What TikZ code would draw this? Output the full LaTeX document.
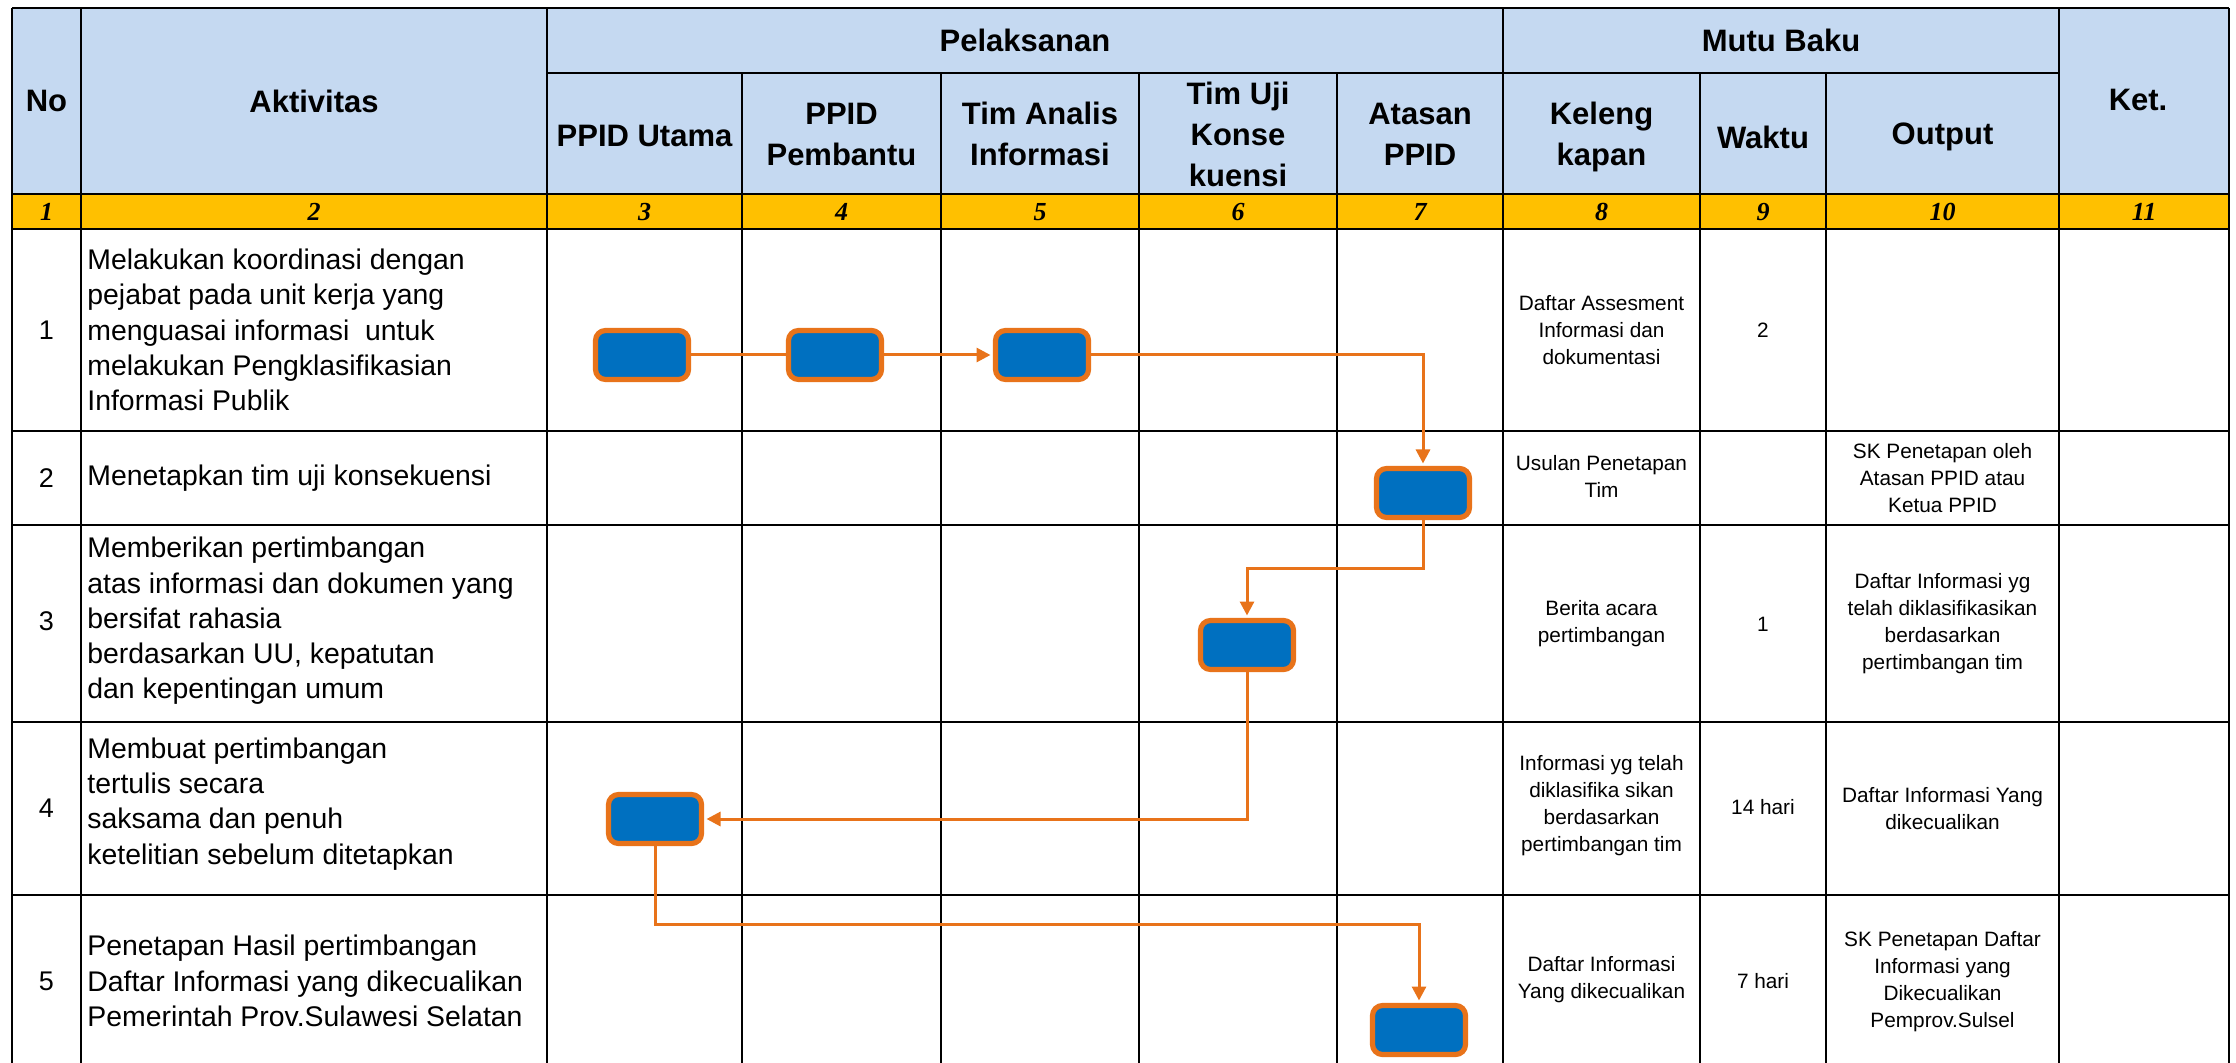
\documentclass[tikz,border=0pt]{standalone}
\usepackage{fontspec}
\setmainfont{Liberation Sans}
\newfontfamily\tnrfam{Liberation Serif}
\usetikzlibrary{arrows.meta}
\definecolor{hdrblue}{HTML}{C5D9F1}
\definecolor{yel}{HTML}{FFC000}
\definecolor{boxblue}{HTML}{0070C0}
\definecolor{boxorange}{HTML}{E8731A}
\newcommand{\myhdr}{\bfseries\fontsize{15.5}{20.5}\selectfont}
\newcommand{\mybody}{\fontsize{14.2}{17.6}\selectfont}
\newcommand{\mysmall}{\fontsize{10.4}{13.5}\selectfont}
\newcommand{\mynum}{\tnrfam\bfseries\itshape\fontsize{13}{15}\selectfont}
\newcommand{\myno}{\fontsize{13.5}{16}\selectfont}
\tikzset{
  grid/.style={line width=1pt, draw=black},
  hdr/.style={font=\myhdr, align=center, inner sep=0},
  body/.style={font=\mybody, align=left, inner sep=0, anchor=west},
  small/.style={font=\mysmall, align=center, inner sep=0},
  colnum/.style={font=\mynum, inner sep=0},
  rowno/.style={font=\myno, inner sep=0},
  act/.style={draw=boxorange, line width=2.6pt, fill=boxblue, rounded corners=5pt,
    minimum width=46.5pt, minimum height=24.5pt, inner sep=0},
  flow/.style={draw=boxorange, line width=1.5pt},
  arr/.style={flow, -{Triangle[length=7pt,width=7pt]}, shorten >=1.2pt},
}
\begin{document}
\begin{tikzpicture}[x=0.5pt,y=-0.5pt]
\useasboundingbox (0,0) rectangle (2236,1063);
% fills
\fill[hdrblue] (12,8) rectangle (2229,194);
\fill[yel] (12,194) rectangle (2229,229);
% horizontal lines
\draw[grid] (12,8) -- (2229,8);
\draw[grid] (547,73) -- (2059,73);
\foreach \yy in {194,229,431,525,722,895,1067} \draw[grid] (12,\yy) -- (2229,\yy);
% vertical lines
\foreach \xx in {12,81,547,1503,2059,2229} \draw[grid] (\xx,8) -- (\xx,1067);
\foreach \xx in {742,941,1139,1337,1700,1826} \draw[grid] (\xx,73) -- (\xx,1067);
% headers
\node[hdr] (hNo) at (46.5,101) {No};
\node[hdr] (hAkt) at (314,101) {Aktivitas};
\node[hdr] (hPel) at (1025,40) {Pelaksanan};
\node[hdr] (hMutu) at (1781,40) {Mutu Baku};
\node[hdr] (hKet) at (2138,100) {Ket.};
\node[hdr] (hPU) at (644.5,136) {PPID Utama};
\node[hdr] (hPP) at (841.5,134) {PPID\\Pembantu};
\node[hdr] (hTA) at (1040,134) {Tim Analis\\Informasi};
\node[hdr] (hTU) at (1238,134) {Tim Uji\\Konse\\kuensi};
\node[hdr] (hAP) at (1420,134) {Atasan\\PPID};
\node[hdr] (hKel) at (1601.5,137) {Keleng\\kapan};
\node[hdr] (hWak) at (1763,137) {Waktu};
\node[hdr] (hOut) at (1942.5,137) {Output};
% column numbers
\node[colnum] (n1) at (46.5,212) {1};
\node[colnum] (n2) at (314,212) {2};
\node[colnum] (n3) at (644.5,212) {3};
\node[colnum] (n4) at (841.5,212) {4};
\node[colnum] (n5) at (1040,212) {5};
\node[colnum] (n6) at (1238,212) {6};
\node[colnum] (n7) at (1420,212) {7};
\node[colnum] (n8) at (1601.5,212) {8};
\node[colnum] (n9) at (1763,212) {9};
\node[colnum] (n10) at (1942.5,212) {10};
\node[colnum] (n11) at (2144,212) {11};
% row numbers
\node[rowno] (r1) at (46.5,330) {1};
\node[rowno] (r2) at (46.5,478) {2};
\node[rowno] (r3) at (46.5,621) {3};
\node[rowno] (r4) at (46.5,808) {4};
\node[rowno] (r5) at (46.5,981) {5};
% activities
\node[body] (a1) at (87,330) {Melakukan koordinasi dengan\\pejabat pada unit kerja yang\\menguasai informasi\ \ untuk\\melakukan Pengklasifikasian\\Informasi Publik};
\node[body] (a2) at (87,478) {Menetapkan tim uji konsekuensi};
\node[body] (a3) at (87,621) {Memberikan pertimbangan\\atas informasi dan dokumen yang\\bersifat rahasia\\berdasarkan UU, kepatutan\\dan kepentingan umum};
\node[body] (a4) at (87,804) {Membuat pertimbangan\\tertulis secara\\saksama dan penuh\\ketelitian sebelum ditetapkan};
\node[body] (a5) at (87,981) {Penetapan Hasil pertimbangan\\Daftar Informasi yang dikecualikan\\Pemerintah Prov.Sulawesi Selatan};
% kelengkapan
\node[small] (k1) at (1601.5,330) {Daftar Assesment\\Informasi dan\\dokumentasi};
\node[small] (k2) at (1601.5,476) {Usulan Penetapan\\Tim};
\node[small] (k3) at (1601.5,624) {Berita acara\\pertimbangan};
\node[small] (k4) at (1601.5,806) {Informasi yg telah\\diklasifika sikan\\berdasarkan\\pertimbangan tim};
\node[small] (k5) at (1601.5,980) {Daftar Informasi\\Yang dikecualikan};
% waktu
\node[small] (w1) at (1763,330) {2};
\node[small] (w3) at (1763,624) {1};
\node[small] (w4) at (1763,807) {14 hari};
\node[small] (w5) at (1763,981) {7 hari};
% output
\node[small] (o2) at (1942.5,478) {SK Penetapan oleh\\Atasan PPID atau\\Ketua PPID};
\node[small] (o3) at (1942.5,624) {Daftar Informasi yg\\telah diklasifikasikan\\berdasarkan\\pertimbangan tim};
\node[small] (o4) at (1942.5,809) {Daftar Informasi Yang\\dikecualikan};
\node[small] (o5) at (1942.5,982) {SK Penetapan Daftar\\Informasi yang\\Dikecualikan\\Pemprov.Sulsel};
% process boxes
\node[act] (b1) at (642,355) {};
\node[act] (b2) at (835,355) {};
\node[act] (b3) at (1042,355) {};
\node[act] (b4) at (1423,493) {};
\node[act] (b5) at (1247,645) {};
\node[act] (b6) at (655,819) {};
\node[act] (b7) at (1419,1030) {};
\coordinate (j1) at (0,568);
\coordinate (j2) at (0,924);
% connectors
\draw[flow] (b1.east) -- (b2.west);
\draw[arr] (b2.east) -- (b3.west);
\draw[arr] (b3.east) -| (b4.north);
\draw[arr] (b4.south) -- (b4.south |- j1) -| (b5.north);
\draw[arr] (b5.south) |- (b6.east);
\draw[arr] (b6.south) -- (b6.south |- j2) -| (b7.north);
\end{tikzpicture}
\end{document}
